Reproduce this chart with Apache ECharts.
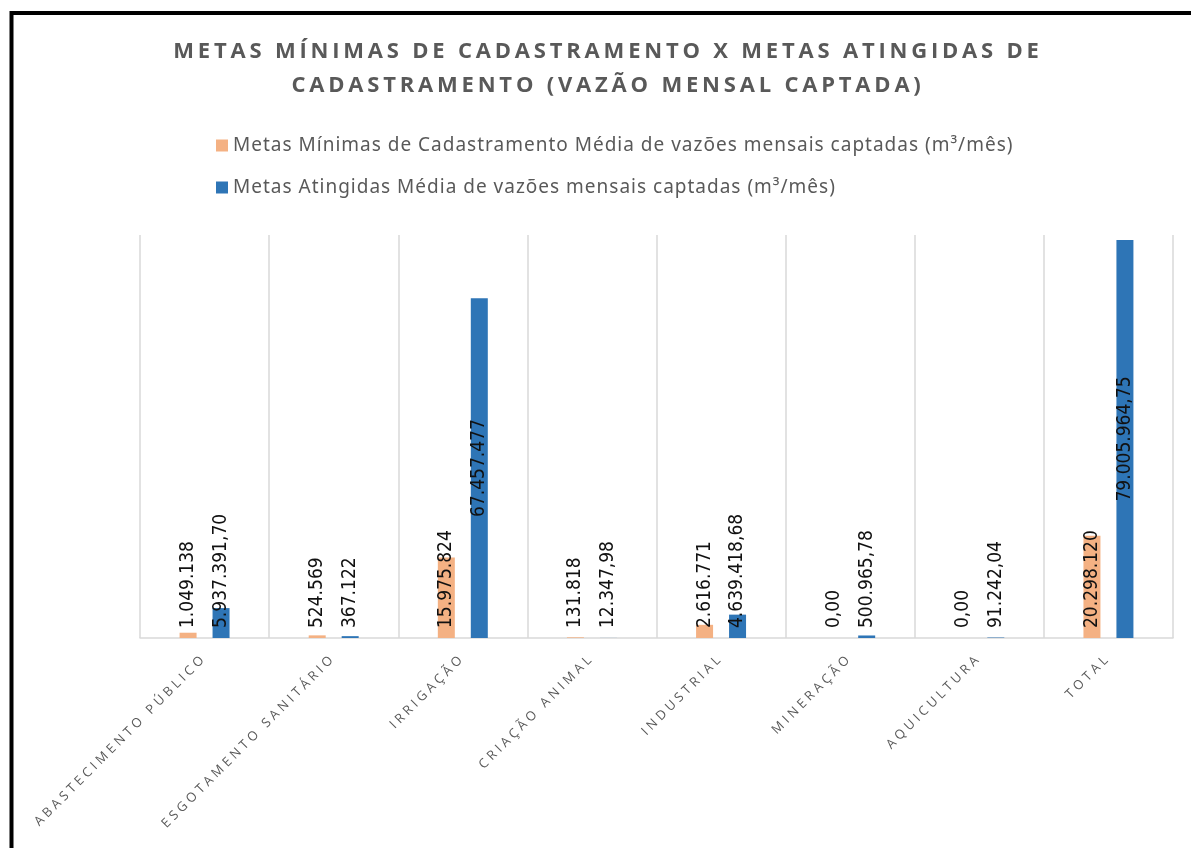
<!DOCTYPE html>
<html>
<head>
<meta charset="utf-8">
<script src="https://cdn.jsdelivr.net/npm/echarts@6/dist/echarts.min.js"></script>
<style>
html,body{margin:0;padding:0;background:#fff;}
#chart{width:1191px;height:848px;}
</style>
</head>
<body>
<div id="chart"></div>
<script>
// ---- data ----
const categories = ['ABASTECIMENTO PÚBLICO', 'ESGOTAMENTO SANITÁRIO', 'IRRIGAÇÃO', 'CRIAÇÃO ANIMAL', 'INDUSTRIAL', 'MINERAÇÃO', 'AQUICULTURA', 'TOTAL'];
const metasMinimas = [1049138, 524569, 15975824, 131818, 2616771, 0, 0, 20298120];
const metasAtingidas = [5937391.70, 367122, 67457477, 12347.98, 4639418.68, 500965.78, 91242.04, 79005964.75];
const labelsMinimas = ['1.049.138', '524.569', '15.975.824', '131.818', '2.616.771', '0,00', '0,00', '20.298.120'];
const labelsAtingidas = ['5.937.391,70', '367.122', '67.457.477', '12.347,98', '4.639.418,68', '500.965,78', '91.242,04', '79.005.964,75'];
const seriesNames = ['Metas Mínimas de Cadastramento Média de vazões mensais captadas (m³/mês)', 'Metas Atingidas Média de vazões mensais captadas (m³/mês)'];
const titleText = 'METAS MÍNIMAS DE CADASTRAMENTO X METAS ATINGIDAS DE\nCADASTRAMENTO (VAZÃO MENSAL CAPTADA)';

// letter spacing (Excel-style spaced texts), chosen by font family
(function(){
  const proto = CanvasRenderingContext2D.prototype;
  const orig = proto.fillText;
  proto.fillText = function(t, x, y, m){
    const f = this.font || '';
    if ('letterSpacing' in this) {
      if (f.indexOf('Open Sans') >= 0) this.letterSpacing = (f.indexOf('bold') >= 0 || f.indexOf('700') >= 0) ? '3.8px' : '3.6px';
      else if (f.indexOf('Noto Sans') >= 0) this.letterSpacing = '1px';
      else this.letterSpacing = '0px';
    }
    return m === undefined ? orig.call(this, t, x, y) : orig.call(this, t, x, y, m);
  };
})();

const yMax = 80000000;
function buildData(values, labels){
  return values.map(function(v, i){
    const big = v > yMax * 0.4;
    return {
      value: v,
      label: big ? { position: 'inside', align: 'center', verticalAlign: 'middle', formatter: labels[i] }
                 : { position: 'insideBottom', align: 'left', verticalAlign: 'middle', distance: 10, formatter: labels[i] }
    };
  });
}

const labelStyle = { show: true, rotate: 90, color: '#111', fontFamily: 'DejaVu Sans Condensed, DejaVu Sans', fontSize: 19 };

const chart = echarts.init(document.getElementById('chart'), null, { renderer: 'canvas' });
chart.setOption({
  animation: false,
  backgroundColor: '#fff',
  legend: {
    orient: 'vertical',
    left: 211,
    top: 131,
    itemWidth: 12,
    itemHeight: 12,
    itemGap: 23,
    icon: 'rect',
    textStyle: { fontFamily: 'Noto Sans', fontSize: 19, color: '#595959' },
    data: seriesNames
  },
  graphic: [{
    type: 'rect',
    shape: { x: 11.5, y: 13, width: 1400, height: 1000 },
    style: { fill: 'none', stroke: '#000', lineWidth: 4 },
    silent: true
  }, {
    type: 'text',
    x: 608,
    y: 35,
    silent: true,
    style: {
      text: titleText,
      align: 'center',
      verticalAlign: 'top',
      fontFamily: 'Open Sans',
      fontWeight: 'bold',
      fontSize: 22,
      lineHeight: 34,
      fill: '#595959'
    }
  }],
  grid: { left: 140, right: 18, top: 235, bottom: 210 },
  xAxis: {
    type: 'category',
    data: categories,
    axisLine: { lineStyle: { color: '#d9d9d9', width: 1.5 } },
    axisTick: { show: false },
    splitLine: { show: true, lineStyle: { color: '#d9d9d9', width: 1.5 } },
    axisLabel: { interval: 0, rotate: 45, margin: 18, color: '#595959', fontFamily: 'Open Sans', fontSize: 13 }
  },
  yAxis: {
    type: 'value',
    min: 0,
    max: yMax,
    show: false,
    splitLine: { show: false }
  },
  series: [
    {
      name: seriesNames[0],
      type: 'bar',
      barWidth: 17,
      barGap: '94%',
      itemStyle: { color: '#F4B183' },
      label: labelStyle,
      data: buildData(metasMinimas, labelsMinimas)
    },
    {
      name: seriesNames[1],
      type: 'bar',
      barWidth: 17,
      barGap: '94%',
      itemStyle: { color: '#2E75B6' },
      label: labelStyle,
      data: buildData(metasAtingidas, labelsAtingidas)
    }
  ]
});
</script>
</body>
</html>
